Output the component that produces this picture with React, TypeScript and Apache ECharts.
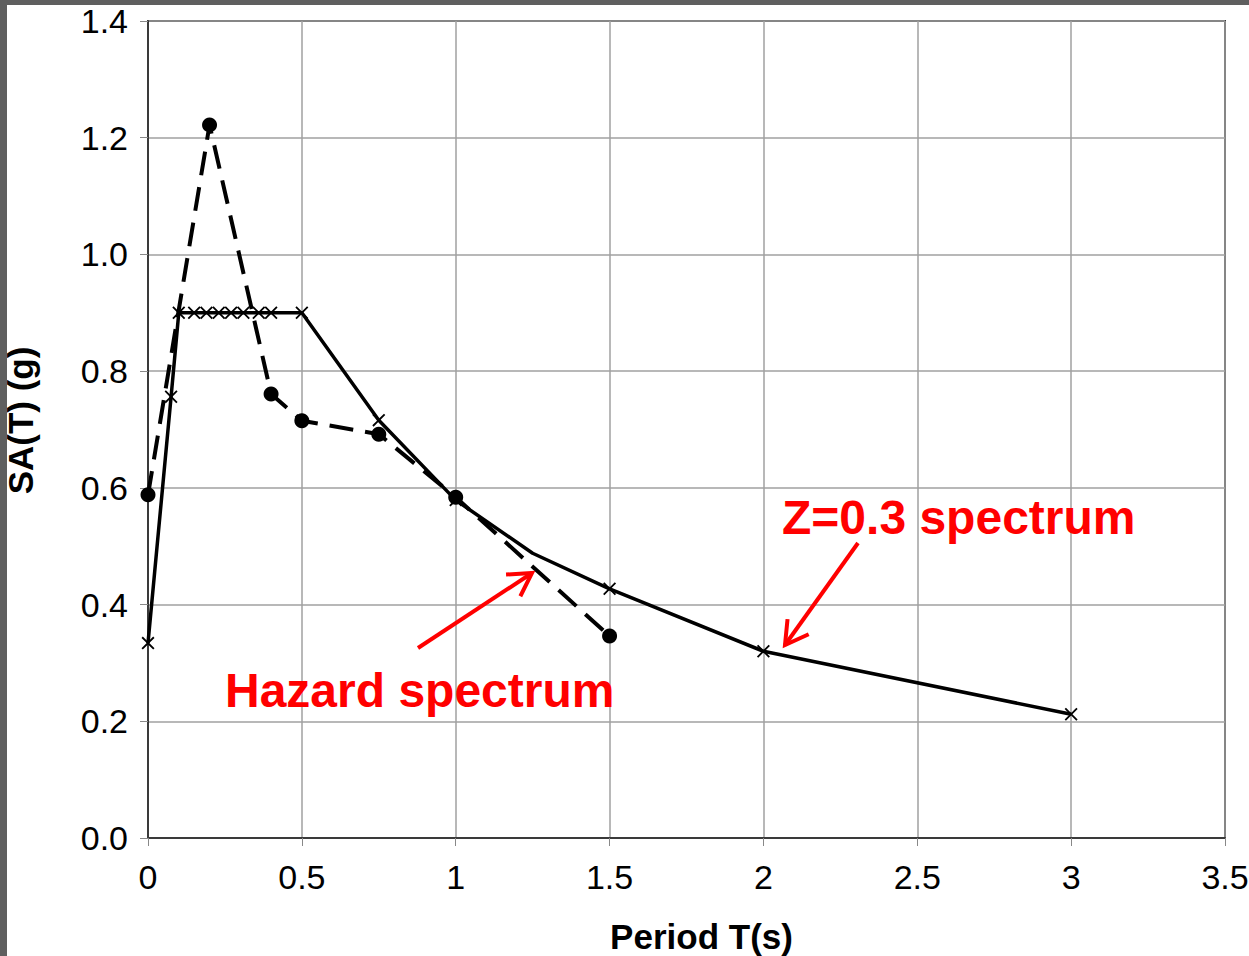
import React, { useEffect, useRef } from "react";
import * as echarts from "echarts";

const zPeriods = [0, 0.075, 0.1, 0.15, 0.19, 0.23, 0.27, 0.31, 0.36, 0.4, 0.5, 0.75, 1.0, 1.25, 1.5, 2.0, 3.0];
const zValues = [0.334, 0.756, 0.9, 0.9, 0.9, 0.9, 0.9, 0.9, 0.9, 0.9, 0.9, 0.716, 0.579, 0.488, 0.427, 0.32, 0.212];
const zMarked = [true, true, true, true, true, true, true, true, true, true, true, true, true, false, true, true, true];

const hazardPeriods = [0, 0.2, 0.4, 0.5, 0.75, 1.0, 1.5];
const hazardValues = [0.588, 1.222, 0.761, 0.715, 0.692, 0.584, 0.346];

const xTicks = [0, 0.5, 1, 1.5, 2, 2.5, 3, 3.5];
const yTicks = [0, 0.2, 0.4, 0.6, 0.8, 1.0, 1.2, 1.4];

const X_PATH = "path://M0,1 L1,0 L5,4 L9,0 L10,1 L6,5 L10,9 L9,10 L5,6 L1,10 L0,9 L4,5 Z";

export default function App() {
  const ref = useRef<HTMLDivElement>(null);
  useEffect(() => {
    const chart = echarts.init(ref.current!, null, { renderer: "svg" });
    const red = "#ff0000";
    const arrow = (x1: number, y1: number, x2: number, y2: number) => {
      const dx = x1 - x2, dy = y1 - y2;
      const len = Math.hypot(dx, dy);
      const ux = dx / len, uy = dy / len;
      const L = 26, c = Math.cos(Math.PI / 6), s = Math.sin(Math.PI / 6);
      const a1 = [x2 + L * (ux * c - uy * s), y2 + L * (ux * s + uy * c)];
      const a2 = [x2 + L * (ux * c + uy * s), y2 + L * (-ux * s + uy * c)];
      return [
        { type: "line", shape: { x1, y1, x2, y2 }, style: { stroke: red, lineWidth: 4 }, z: 100 },
        { type: "polyline", shape: { points: [a1, [x2, y2], a2] }, style: { stroke: red, lineWidth: 4, fill: null }, z: 100 },
      ];
    };
    chart.setOption({
      animation: false,
      backgroundColor: "#ffffff",
      grid: {
        left: 148, right: 24, top: 21, bottom: 118,
        containLabel: false,
        outerBoundsMode: "none",
        show: true, borderColor: "#3a3a3a", borderWidth: 2,
      },
      xAxis: {
        type: "value", min: 0, max: 3.5, interval: 0.5,
        name: "Period T(s)", nameLocation: "middle", nameGap: 81,
        nameTextStyle: {
          fontFamily: "Liberation Sans, Arial", fontSize: 35, fontWeight: "bold", color: "#000",
          padding: [0, 0, 0, 30],
        },
        axisLine: { lineStyle: { color: "#3a3a3a", width: 2 } },
        axisTick: { show: true, length: 8, lineStyle: { color: "#888" } },
        axisLabel: {
          fontFamily: "Liberation Sans, Arial", fontSize: 34, color: "#000", margin: 22,
          formatter: (v: number) => (xTicks.includes(v) ? String(v) : ""),
        },
        splitLine: { show: true, lineStyle: { color: "#a0a0a0", width: 1.5 } },
      },
      yAxis: {
        type: "value", min: 0, max: 1.4, interval: 0.2,
        name: "SA(T) (g)", nameLocation: "middle", nameGap: 110,
        nameTextStyle: {
          fontFamily: "Liberation Sans, Arial", fontSize: 35, fontWeight: "bold", color: "#000",
          padding: [0, 0, 0, 18],
        },
        axisLine: { show: true, lineStyle: { color: "#3a3a3a", width: 2 } },
        axisTick: { show: true, length: 8, lineStyle: { color: "#888" } },
        axisLabel: {
          fontFamily: "Liberation Sans, Arial", fontSize: 34, color: "#000", margin: 20,
          formatter: (v: number) => (yTicks.some((t) => Math.abs(t - v) < 1e-9) ? v.toFixed(1) : ""),
        },
        splitLine: { show: true, lineStyle: { color: "#a0a0a0", width: 1.5 } },
      },
      series: [
        {
          name: "Z=0.3 spectrum",
          type: "line",
          data: zPeriods.map((p, i) => ({
            value: [p, zValues[i]],
            symbol: zMarked[i] ? X_PATH : "none",
          })),
          symbol: X_PATH,
          symbolSize: 13,
          showAllSymbol: true,
          lineStyle: { color: "#000", width: 3.5 },
          itemStyle: { color: "#000" },
          z: 3,
        },
        {
          name: "Hazard spectrum",
          type: "line",
          data: hazardPeriods.map((p, i) => [p, hazardValues[i]]),
          symbol: "circle",
          symbolSize: 15,
          lineStyle: { color: "#000", width: 4, type: [24, 12] },
          itemStyle: { color: "#000" },
          z: 4,
        },
      ],
      graphic: [
        { type: "rect", shape: { x: 0, y: 0, width: 1249, height: 5 }, style: { fill: "#5f5f5f" }, z: 200 },
        { type: "rect", shape: { x: 0, y: 0, width: 7, height: 956 }, style: { fill: "#5f5f5f" }, z: 200 },
        {
          type: "text", left: 782, top: 493,
          style: { text: "Z=0.3 spectrum", fill: red, font: "bold 48px 'Liberation Sans', Arial" },
          z: 100,
        },
        {
          type: "text", left: 225, top: 666,
          style: { text: "Hazard spectrum", fill: red, font: "bold 48px 'Liberation Sans', Arial" },
          z: 100,
        },
        ...arrow(418, 648, 532, 573),
        ...arrow(858, 543, 785, 645),
      ],
    });
    return () => chart.dispose();
  }, []);
  return (
    <div style={{ position: "fixed", left: 0, top: 0, width: 1249, height: 956 }}>
      <div ref={ref} style={{ width: 1249, height: 956 }} />
    </div>
  );
}
